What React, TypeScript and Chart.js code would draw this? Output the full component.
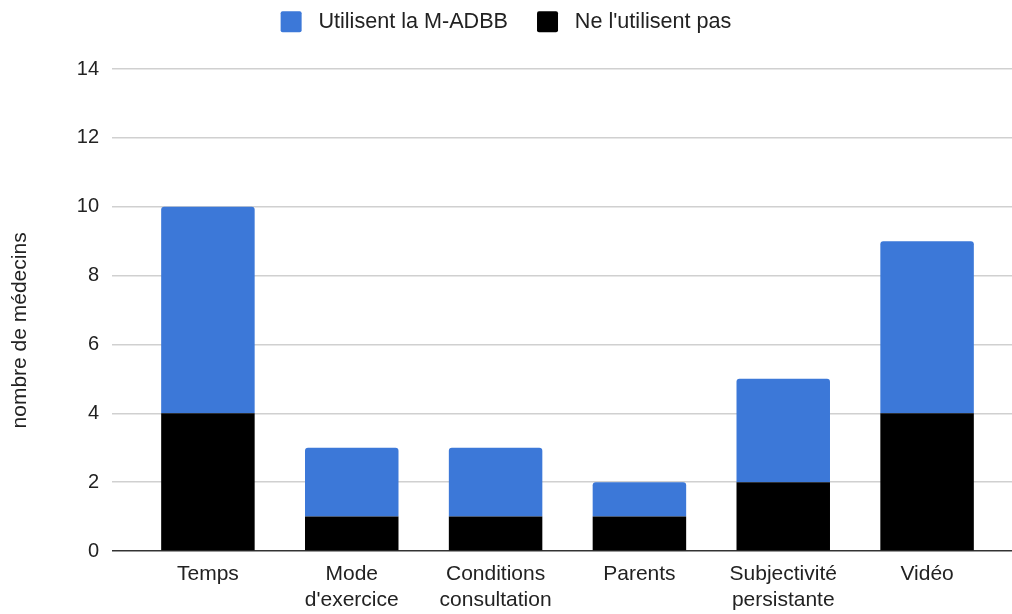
import React, { useEffect, useRef } from "react";
import { Chart, registerables } from "chart.js";

Chart.register(...registerables);

const categories: (string | string[])[] = [
  "Temps",
  ["Mode", "d'exercice"],
  ["Conditions", "consultation"],
  "Parents",
  ["Subjectivité", "persistante"],
  "Vidéo",
];
const utilisent = [6, 2, 2, 1, 3, 5];
const nUtilisentPas = [4, 1, 1, 1, 2, 4];
const labelUtilisent = "Utilisent la M-ADBB";
const labelPas = "Ne l'utilisent pas";
const yTitle = "nombre de médecins";

const FONT = "'Liberation Sans', Arial, sans-serif";
const BLUE = "#3c78d8";
const TEXT = "#222222";
const GRID = "#d0d0d0";
const ZERO = "#333333";

export default function App() {
  const ref = useRef<HTMLCanvasElement | null>(null);

  useEffect(() => {
    if (!ref.current) return;
    const lineColor = (ctx: any) => (ctx.tick && ctx.tick.value === 0 ? ZERO : GRID);
    const legendHeight = {
      id: "legendHeight",
      beforeInit(chart: any) {
        const legend = chart.legend;
        if (!legend) return;
        const orig = legend.fit;
        legend.fit = function () {
          orig.call(this);
          this.height = 69;
        };
      },
    };
    const chart = new Chart(ref.current, {
      type: "bar",
      data: {
        labels: categories,
        datasets: [
          {
            label: labelPas,
            data: nUtilisentPas,
            backgroundColor: "#000000",
            borderWidth: 0,
          },
          {
            label: labelUtilisent,
            data: utilisent,
            backgroundColor: BLUE,
            borderWidth: 0,
            borderRadius: { topLeft: 3, topRight: 3, bottomLeft: 0, bottomRight: 0 },
            borderSkipped: false,
          },
        ],
      },
      plugins: [legendHeight],
      options: {
        animation: false,
        responsive: false,
        maintainAspectRatio: false,
        layout: { padding: 0 },
        datasets: { bar: { barPercentage: 0.65, categoryPercentage: 1 } },
        plugins: {
          tooltip: { enabled: false },
          legend: {
            position: "top",
            align: "center",
            reverse: true,
            labels: {
              font: { family: FONT, size: 21.6 },
              color: TEXT,
              boxWidth: 21,
              boxHeight: 21,
              padding: 11,
              useBorderRadius: true,
              borderRadius: 2,
              generateLabels(chart: any) {
                const items = Chart.defaults.plugins.legend.labels.generateLabels(chart);
                return items.map((it: any) => ({
                  ...it,
                  lineWidth: 0,
                  text: " " + it.text + (it.datasetIndex === 1 ? "\u00a0\u00a0\u00a0" : ""),
                }));
              },
            },
          },
        },
        scales: {
          x: {
            stacked: true,
            grid: { display: false, drawTicks: false },
            border: { display: false },
            ticks: {
              font: { family: FONT, size: 21, lineHeight: 1.25 },
              color: TEXT,
              padding: 10,
              maxRotation: 0,
              autoSkip: false,
            },
            afterFit(scale: any) {
              scale.height = 63;
            },
          },
          y: {
            stacked: true,
            min: 0,
            max: 14,
            position: "left",
            ticks: {
              stepSize: 2,
              font: { family: FONT, size: 20 },
              color: TEXT,
              padding: 13,
            },
            grid: {
              color: lineColor,
              tickColor: lineColor,
              lineWidth: 1.5,
              tickLength: 24,
              drawTicks: true,
            },
            border: { display: false },
            title: {
              display: true,
              text: yTitle + "\u00a0".repeat(7),
              font: { family: FONT, size: 21 },
              color: TEXT,
              padding: { top: 8, bottom: 0 },
            },
            afterFit(scale: any) {
              scale.width = 136;
            },
          },
          y2: {
            position: "right",
            min: 0,
            max: 14,
            ticks: { display: false, stepSize: 2 },
            grid: {
              drawOnChartArea: false,
              drawTicks: true,
              tickLength: 13,
              color: lineColor,
              tickColor: lineColor,
              lineWidth: 1.5,
            },
            border: { display: false },
            afterFit(scale: any) {
              scale.width = 13;
            },
          },
        },
      },
    } as any);
    return () => chart.destroy();
  }, []);

  return (
    <div style={{ position: "fixed", left: 0, top: 0, width: 1012, height: 614, background: "#fff" }}>
      <canvas ref={ref} width={1012} height={614} style={{ width: 1012, height: 614 }} />
    </div>
  );
}
